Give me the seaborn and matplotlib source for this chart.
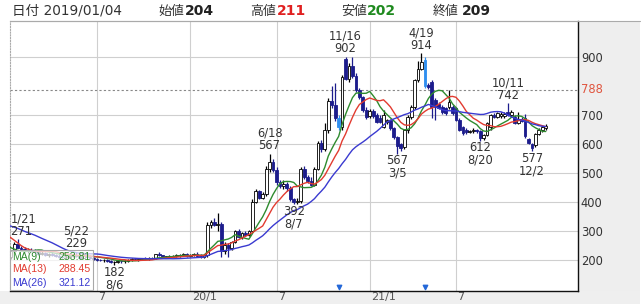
import numpy as np
import pandas as pd
import matplotlib
matplotlib.use("Agg")
import matplotlib.pyplot as plt
import seaborn as sns
from matplotlib.patches import Rectangle
from matplotlib.transforms import blended_transform_factory, ScaledTranslation

sns.set_theme(style="white")
plt.rcParams["font.family"] = ["DejaVu Sans", "Noto Sans CJK JP"]

# ---------------- data (weekly bars from the week of 2019/01/04) ----------------
opens = [204, 209, 230, 255, 243, 238, 232, 236, 230, 228, 222, 225, 218, 220, 216, 214, 212, 210, 212, 214,
         218, 214, 208, 222, 212, 206, 203, 201, 199, 200, 196, 192, 194, 196, 195, 197, 201, 204, 201, 203,
         206, 205, 207, 206, 220, 216, 211, 212, 214, 215, 217, 218, 220, 214, 217, 221, 215, 212, 216, 322,
         330, 322, 326, 232, 252, 240, 262, 300, 280, 292, 288, 300, 402, 438, 415, 428, 515, 540, 512, 468,
         455, 462, 448, 410, 400, 404, 515, 486, 472, 460, 515, 603, 582, 648, 750, 735, 690, 658, 895, 826,
         870, 835, 788, 762, 717, 697, 715, 700, 692, 660, 675, 683, 655, 624, 600, 590, 648, 693, 727, 821,
         860, 890, 805, 815, 752, 738, 728, 725, 728, 728, 724, 683, 660, 650, 642, 646, 648, 645, 622, 632,
         658, 700, 695, 696, 697, 710, 700, 695, 672, 688, 690, 618, 602, 597, 636, 648, 655]
highs = [211, 235, 262, 271, 250, 245, 240, 242, 238, 233, 230, 228, 225, 226, 222, 220, 218, 216, 218, 222,
         229, 220, 226, 228, 216, 210, 208, 205, 204, 203, 200, 197, 199, 200, 199, 203, 206, 207, 205, 208,
         210, 209, 212, 222, 226, 219, 215, 216, 218, 220, 222, 224, 223, 220, 224, 226, 220, 222, 330, 338,
         345, 362, 330, 262, 258, 266, 305, 308, 298, 300, 305, 410, 445, 442, 435, 525, 567, 548, 520, 478,
         478, 470, 455, 415, 414, 520, 525, 492, 488, 520, 612, 615, 672, 760, 800, 812, 700, 840, 902, 880,
         900, 845, 795, 768, 728, 722, 720, 706, 700, 718, 688, 688, 660, 628, 605, 652, 700, 735, 825, 888,
         914, 900, 812, 820, 758, 745, 735, 730, 786, 735, 728, 690, 664, 655, 650, 655, 652, 650, 635, 678,
         705, 708, 712, 710, 712, 742, 718, 700, 710, 695, 705, 622, 605, 640, 655, 662, 668]
lows = [202, 205, 228, 240, 232, 228, 225, 226, 222, 218, 216, 214, 212, 213, 210, 208, 206, 205, 206, 210,
        212, 205, 205, 210, 204, 200, 198, 196, 194, 192, 188, 182, 188, 190, 191, 194, 198, 199, 197, 200,
        202, 201, 203, 204, 214, 208, 207, 208, 209, 211, 212, 213, 210, 211, 214, 212, 206, 208, 212, 310,
        318, 300, 210, 222, 210, 235, 258, 275, 272, 282, 284, 296, 398, 410, 410, 420, 505, 505, 460, 448,
        445, 440, 405, 392, 395, 398, 480, 466, 455, 455, 510, 572, 578, 640, 725, 680, 648, 650, 820, 815,
        828, 780, 755, 712, 688, 690, 690, 672, 672, 655, 668, 650, 618, 567, 575, 585, 640, 688, 720, 815,
        855, 795, 790, 690, 683, 720, 705, 700, 722, 702, 680, 645, 630, 635, 638, 640, 638, 612, 615, 628,
        650, 692, 690, 692, 692, 698, 695, 668, 668, 675, 620, 600, 577, 590, 632, 642, 650]
closes = [209, 230, 255, 243, 238, 232, 236, 230, 228, 222, 225, 218, 220, 216, 214, 212, 210, 212, 214, 218,
          214, 208, 222, 212, 206, 203, 201, 199, 200, 196, 192, 194, 196, 195, 197, 201, 204, 201, 203, 206,
          205, 207, 206, 220, 216, 211, 212, 214, 215, 217, 218, 220, 214, 217, 221, 215, 212, 216, 322, 330,
          322, 326, 232, 252, 240, 262, 300, 280, 292, 288, 300, 402, 438, 415, 428, 515, 540, 512, 468, 455,
          462, 448, 410, 400, 404, 515, 486, 472, 460, 515, 603, 582, 648, 750, 735, 690, 658, 832, 826, 870,
          835, 788, 762, 717, 695, 715, 698, 678, 676, 700, 683, 655, 624, 592, 588, 648, 693, 727, 821, 860,
          885, 800, 798, 728, 730, 725, 712, 706, 745, 708, 685, 650, 640, 642, 646, 648, 644, 622, 632, 672,
          700, 695, 707, 704, 705, 702, 712, 672, 686, 680, 628, 605, 588, 636, 648, 658, 664]
# closes of the 25 weeks before the first bar (only used to warm up the moving averages)
prior_closes = [330, 345, 360, 372, 365, 350, 340, 352, 368, 362, 350, 345, 360,
                375, 370, 365, 356,
                330, 300, 280, 260, 245, 230, 220, 210]

ma_periods = [9, 13, 26]
ma_colors = ["#2e8b2e", "#e23b30", "#3a3ad0"]
ma_legend_values = ["253.81", "288.45", "321.12"]

highlight_weeks = [96, 121]          # light-blue candles with blue markers below
grid_weeks = [26, 53, 78, 105, 130]
grid_labels = ["7", "20/1", "7", "21/1", "7"]
y_ticks = [200, 300, 400, 500, 600, 700, 900]
ref_price = 788

# (week index, kind, date text)
extremes = [(3, "high", "1/21"), (20, "high", "5/22"), (31, "low", "8/6"),
            (76, "high", "6/18"), (83, "low", "8/7"), (98, "high", "11/16"),
            (113, "low", "3/5"), (120, "high", "4/19"), (137, "low", "8/20"),
            (145, "high", "10/11"), (152, "low", "12/2")]

header_date = "2019/01/04"
header_items = [("始値", 204, "#222222"), ("高値", 211, "#e02020"),
                ("安値", 202, "#1f8a1f"), ("終値", 209, "#222222")]

# ---------------- figure ----------------
W, H = 644, 304
fig = plt.figure(figsize=(W / 100, H / 100), dpi=100, facecolor="white")
L, R, T, B = 10, 578, 21, 291
ax = fig.add_axes([L / W, 1 - B / H, (R - L) / W, (B - T) / H])
ax.set_facecolor("white")

# right/bottom panels
fig.patches.append(Rectangle((R / W, 0), (640 - R) / W, 1 - T / H, transform=fig.transFigure,
                             facecolor="#eeeeee", edgecolor="none", zorder=-1))
fig.patches.append(Rectangle((0, 0), 640 / W, 1 - B / H, transform=fig.transFigure,
                             facecolor="#efefef", edgecolor="none", zorder=-1))

n = len(closes)
idx = np.arange(n)
o = np.array(opens, float); c = np.array(closes, float)
h = np.array(highs, float); l = np.array(lows, float)

all_closes = pd.Series(prior_closes + closes, dtype=float)
mas = [all_closes.rolling(p).mean().to_numpy()[len(prior_closes):] for p in ma_periods]

up = c >= o
navy = "#1c1c8c"
light = "#2f8ff0"
face = np.where(up, "white", navy).astype(object)
edge = np.where(up, "black", navy).astype(object)
wick = np.where(up, "black", navy).astype(object)
for w in highlight_weeks:
    face[w] = light; edge[w] = light; wick[w] = light

ax.vlines(idx, l, h, colors=list(wick), linewidth=0.9, zorder=2)
ax.bar(idx, np.maximum(np.abs(c - o), 1.5), bottom=np.minimum(o, c), width=0.8,
       color=list(face), edgecolor=list(edge), linewidth=0.6, zorder=2.5)

for ma, col in zip(mas, ma_colors):
    sns.lineplot(x=idx, y=ma, ax=ax, color=col, linewidth=1.0, legend=False, zorder=3)

ax.axhline(ref_price, color="#888888", linewidth=0.8, linestyle=(0, (2, 2)), zorder=1)

ax.set_xlim((L - 7.25) / 3.452, (R - 7.25) / 3.452)
ax.set_ylim(93, 1025.3)

ax.set_xticks(grid_weeks)
ax.set_xticklabels(grid_labels)
ax.set_yticks(y_ticks)
ax.set_yticklabels([str(v) for v in y_ticks])
ax.yaxis.tick_right()
ax.tick_params(axis="y", length=0, pad=2, labelsize=8.3, labelcolor="#333333")
ax.tick_params(axis="x", length=0, pad=0.5, labelsize=8, labelcolor="#555555")
off = ScaledTranslation(1.5 / 100, 0, fig.dpi_scale_trans)
for lbl in ax.get_xticklabels():
    lbl.set_ha("left")
    lbl.set_transform(lbl.get_transform() + off)
ax.grid(True, color="#cfcfcf", linewidth=0.8)
ax.set_axisbelow(True)

# 788 label
t788 = ax.text(1.0, ref_price, str(ref_price), ha="left", va="center", fontsize=8.3, color="#e0553f")
t788.set_transform(blended_transform_factory(ax.transAxes, ax.transData)
                   + ScaledTranslation(2.5 / 100, 0, fig.dpi_scale_trans))

for side in ["top", "left"]:
    ax.spines[side].set_color("#aaaaaa")
    ax.spines[side].set_linewidth(0.8)
ax.spines["left"].set_linestyle((0, (1, 1.5)))
for side in ["right", "bottom"]:
    ax.spines[side].set_color("#111111")
    ax.spines[side].set_linewidth(1.0)

# extremes annotations
for wk, kind, dtxt in extremes:
    if kind == "high":
        val = highs[wk]
        txt = f"{dtxt}\n{val}"
        va, dy, y = "bottom", 1.0, val
    else:
        val = lows[wk]
        txt = f"{val}\n{dtxt}"
        va, dy, y = "top", -0.5, val
    x, ha = wk, "center"
    if wk < 5:
        x, ha = ax.get_xlim()[0] + 0.1, "left"
    ax.annotate(txt, (x, y), xytext=(0, dy), textcoords="offset points",
                ha=ha, va=va, fontsize=8.3, color="#333333", linespacing=0.95, zorder=4)

# markers below highlighted weeks
ax.scatter(highlight_weeks, [0.015] * len(highlight_weeks), marker="v", s=10, color="#2468d8",
           transform=blended_transform_factory(ax.transData, ax.transAxes), zorder=4, clip_on=False)

# MA legend box
fig.patches.append(Rectangle((10 / W, 1 - 290 / H), 83 / W, 40 / H, transform=fig.transFigure,
                             facecolor=(1, 1, 1, 0.72), edgecolor="#a8a8a8", linewidth=0.8, zorder=2))
for k, (p, col, v) in enumerate(zip(ma_periods, ma_colors, ma_legend_values)):
    yy = 1 - (256.5 + 13 * k) / H
    fig.text(12 / W, yy, f"MA({p})", color=col, fontsize=7.6, ha="left", va="center", zorder=3,
             family="Liberation Sans")
    fig.text(91 / W, yy, v, color=col, fontsize=7.6, ha="right", va="center", zorder=3,
             family="Liberation Sans")

# header
hy = 1 - 11 / H
fig.text(12 / W, hy, f"日付 {header_date}", fontsize=9.8, color="#333333", ha="left", va="center")
lab_x = [158, 250, 341, 433]
val_x = [185, 277, 367, 462]
for (lab, v, col), lx, vx in zip(header_items, lab_x, val_x):
    fig.text(lx / W, hy, lab, fontsize=9.3, color="#333333", ha="left", va="center")
    fig.text(vx / W, hy, str(v), fontsize=10, color=col, ha="left", va="center", fontweight="bold")
fig.lines.append(plt.Line2D([L / W, 640 / W], [1 - T / H, 1 - T / H], transform=fig.transFigure,
                            color="#aaaaaa", linewidth=0.8))

fig.savefig("out.png", dpi=100, facecolor="white")
